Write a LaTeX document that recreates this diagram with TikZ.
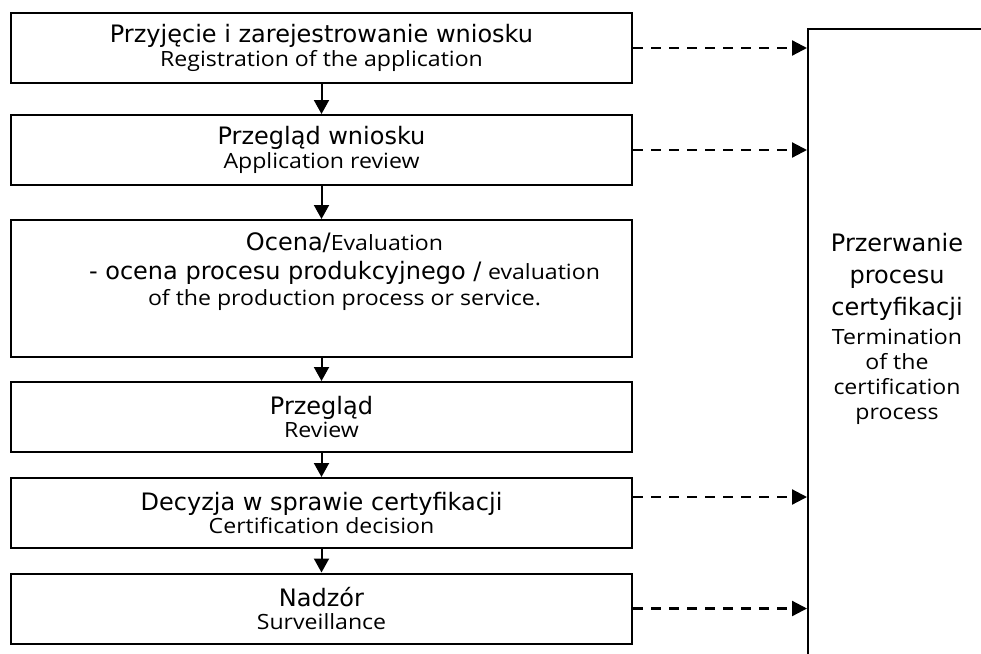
\documentclass[tikz,border=0pt]{standalone}
\usepackage{fontspec}
\newfontfamily\plfont{DejaVu Sans}
\newfontfamily\enfont[FakeStretch=1.1]{Open Sans}
\usetikzlibrary{arrows.meta,positioning}
\newcommand{\pltext}[1]{{\plfont\fontsize{24}{25}\selectfont #1}}
\newcommand{\entext}[1]{{\enfont\fontsize{21}{25}\selectfont #1}}

\begin{document}
\begin{tikzpicture}
    [x=1pt,y=-1pt,
    stage/.style={draw,line width=2pt,minimum width=621pt,
      minimum height=70pt,inner sep=0pt,align=center,
      font=\fontsize{22}{23.5}\selectfont},
    flow/.style={->,>={Triangle[width=15pt,length=14pt]},line width=2pt},
    jump/.style={->,>={Triangle[width=15pt,length=15pt]},line width=2.2pt,
      dash pattern=on 10pt off 8pt}]
    \useasboundingbox (0,0) rectangle (981,653);
    \clip (0,0) rectangle (981,653);
    % stages of the certification
    \node[stage] (b1) at (321.5,48) {\pltext{Przyjęcie i zarejestrowanie wniosku}\\
      \entext{Registration of the application}};
    \node[stage] (b2) at (321.5,150) {\pltext{Przegląd wniosku}\\
      \entext{Application review}};
    \node[stage,minimum height=137pt] (b3) at (321.5,288.5) {};
    \node[below=10pt of b3.north,xshift=23pt,align=center,
    font=\fontsize{22}{29}\selectfont]
    (b3t) {\pltext{Ocena/}\entext{Evaluation}\\
      \pltext{- ocena procesu produkcyjnego /} \entext{evaluation}\\[-3pt]
      \entext{of the production process or service.}};
    \node[stage] (b4) at (321.5,417) {\pltext{Przegląd}\\
      \entext{Review}};
    \node[stage] (b5) at (321.5,513) {\pltext{Decyzja w sprawie certyfikacji}\\
      \entext{Certification decision}};
    \node[stage] (b6) at (321.5,608.5) {\pltext{Nadzór}\\
      \entext{Surveillance}};
    % termination
    \node[draw,line width=2pt,anchor=north west,minimum width=220pt,
    minimum height=680pt] (term) at (807,28) {};
    \node[align=center,font=\fontsize{22}{32}\selectfont] (termt) at (897,329)
    {\pltext{Przerwanie}\\ \pltext{procesu}\\ \pltext{certyfikacji}\\[-3pt]
      \entext{Termination}\\[-7pt] \entext{of the}\\[-7pt]
      \entext{certification}\\[-7pt] \entext{process}};
    
    \draw[flow] (b1) -- (b2);
    \draw[flow] (b2) -- (b3);
    \draw[flow] (b3) -- (b4);
    \draw[flow] (b4) -- (b5);
    \draw[flow] (b5) -- (b6);
    
    \draw[jump] (b1.east) -- (b1.east -| term.west);
    \draw[jump] (b2.east) -- (b2.east -| term.west);
    \draw[jump] ([yshift=16pt]b5.east) -- ([yshift=16pt]b5.east -| term.west);
    \draw[jump] (b6.east) -- (b6.east -| term.west);
  \end{tikzpicture}
\end{document}
